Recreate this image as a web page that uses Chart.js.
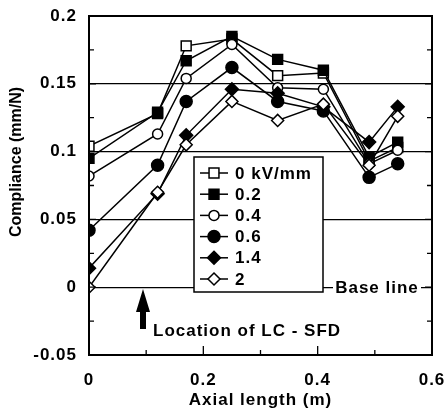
<!DOCTYPE html>
<html>
<head>
<meta charset="utf-8">
<script src="https://cdn.jsdelivr.net/npm/chart.js@4/dist/chart.umd.min.js"></script>
<style>
  body { margin: 0; background: #fff; }
  canvas { display: block; }
</style>
</head>
<body>
<canvas id="myChart" width="444" height="416"></canvas>
<script>
// axial positions (m) and compliance (mm/N) per field strength
const xValues = [0, 0.12, 0.17, 0.25, 0.33, 0.41, 0.49, 0.54];
const kv0  = [0.104, 0.128, 0.178, 0.183, 0.156, 0.158, 0.093, 0.103];
const kv02 = [0.095, 0.129, 0.167, 0.185, 0.168, 0.160, 0.096, 0.107];
const kv04 = [0.082, 0.113, 0.154, 0.179, 0.147, 0.146, 0.091, 0.101];
const kv06 = [0.042, 0.090, 0.137, 0.162, 0.137, 0.130, 0.081, 0.091];
const kv14 = [0.014, 0.069, 0.112, 0.146, 0.143, 0.133, 0.107, 0.133];
const kv2  = [0.000, 0.070, 0.105, 0.137, 0.123, 0.135, 0.090, 0.126];
const seriesLabels = ["0 kV/mm", "0.2", "0.4", "0.6", "1.4", "2"];
const xTickLabels = ["0", "0.2", "0.4", "0.6"];
const yTickLabels = ["-0.05", "0", "0.05", "0.1", "0.15", "0.2"];

const FONT = "'Liberation Sans', Arial, sans-serif";

const styles = [
    { shape: "rect", fill: "#fff", r: 7 },
    { shape: "rect", fill: "#000", r: 7 },
    { shape: "circle", fill: "#fff", r: 5 },
    { shape: "circle", fill: "#000", r: 6 },
    { shape: "rectRot", fill: "#000", r: 6.5 },
    { shape: "rectRot", fill: "#fff", r: 6 }
];

const allSeries = [kv0, kv02, kv04, kv06, kv14, kv2];
const datasets = allSeries.map((vals, i) => ({
    label: seriesLabels[i],
    data: vals.map((v, j) => ({ x: xValues[j], y: v })),
    showLine: true,
    borderColor: "#000",
    borderWidth: 1.5,
    pointStyle: styles[i].shape,
    pointRadius: styles[i].r,
    pointBackgroundColor: styles[i].fill,
    pointBorderColor: "#000",
    pointBorderWidth: 1.5,
    order: allSeries.length - i // later series on top
}));

// hand drawn marker for the legend box
function drawMarker(ctx, st, x, y) {
    ctx.beginPath();
    if (st.shape === "rect") {
        const s = Math.SQRT1_2 * st.r;
        ctx.rect(x - s, y - s, 2 * s, 2 * s);
    } else if (st.shape === "circle") {
        ctx.arc(x, y, st.r, 0, Math.PI * 2);
    } else {
        ctx.moveTo(x, y - st.r);
        ctx.lineTo(x + st.r, y);
        ctx.lineTo(x, y + st.r);
        ctx.lineTo(x - st.r, y);
        ctx.closePath();
    }
    ctx.fillStyle = st.fill;
    ctx.fill();
    ctx.lineWidth = 1.5;
    ctx.strokeStyle = "#000";
    ctx.stroke();
}

const decor = {
    id: "decor",
    beforeDraw(chart) {
        chart.ctx.letterSpacing = "1px";
    },
    afterDraw(chart) {
        const ctx = chart.ctx;
        const a = chart.chartArea;
        const xs = chart.scales.x, ys = chart.scales.y;
        ctx.save();
        ctx.strokeStyle = "#000";

        // inward tick marks
        ctx.lineWidth = 1.3;
        for (let k = -2; k <= 8; k++) {
            const py = ys.getPixelForValue(k * 0.025);
            const len = k % 2 === 0 ? 7 : 5;
            ctx.beginPath();
            ctx.moveTo(a.left, py); ctx.lineTo(a.left + len, py);
            ctx.moveTo(a.right, py); ctx.lineTo(a.right - len, py);
            ctx.stroke();
        }
        for (let k = 1; k <= 5; k++) {
            const px = xs.getPixelForValue(k * 0.1);
            const len = k % 2 === 0 ? 9 : 5;
            ctx.beginPath();
            ctx.moveTo(px, a.bottom); ctx.lineTo(px, a.bottom - len);
            ctx.stroke();
        }

        // frame
        ctx.lineWidth = 2;
        ctx.strokeRect(a.left, a.top, a.right - a.left, a.bottom - a.top);

        // legend box
        const lx = 194, ly = 157, lw = 129, lh = 135;
        ctx.fillStyle = "#fff";
        ctx.fillRect(lx, ly, lw, lh);
        ctx.lineWidth = 1.5;
        ctx.strokeRect(lx, ly, lw, lh);
        ctx.font = "bold 17px " + FONT;
        ctx.textBaseline = "middle";
        ctx.textAlign = "left";
        seriesLabels.forEach((lab, i) => {
            const yy = 173 + i * 21.2;
            ctx.beginPath();
            ctx.lineWidth = 1.5;
            ctx.moveTo(200, yy); ctx.lineTo(228, yy);
            ctx.stroke();
            drawMarker(ctx, styles[i], 214, yy);
            ctx.fillStyle = "#000";
            ctx.fillText(lab, 235, yy + 1);
        });

        // base line label
        const y0 = ys.getPixelForValue(0);
        ctx.fillStyle = "#fff";
        ctx.fillRect(333, y0 - 9, 88, 18);
        ctx.fillStyle = "#000";
        ctx.textAlign = "center";
        ctx.fillText("Base line", 377, y0 + 1);

        // arrow marking the damper location
        const ax = 143;
        ctx.beginPath();
        ctx.moveTo(ax, 289);
        ctx.lineTo(ax + 7, 312);
        ctx.lineTo(ax + 3, 312);
        ctx.lineTo(ax + 3, 329);
        ctx.lineTo(ax - 3, 329);
        ctx.lineTo(ax - 3, 312);
        ctx.lineTo(ax - 7, 312);
        ctx.closePath();
        ctx.fill();
        ctx.textAlign = "left";
        ctx.textBaseline = "alphabetic";
        ctx.fillText("Location of LC - SFD", 153, 336);

        // y axis title
        ctx.translate(17, 162);
        ctx.rotate(-Math.PI / 2);
        ctx.textAlign = "center";
        ctx.textBaseline = "middle";
        ctx.letterSpacing = "0px";
        ctx.font = "bold 16px " + FONT;
        ctx.fillText("Compliance (mm/N)", 0, 0);
        ctx.restore();
    }
};

new Chart(document.getElementById("myChart"), {
    type: "scatter",
    data: { datasets: datasets },
    plugins: [decor],
    options: {
        responsive: false,
        animation: false,
        layout: { padding: { top: 16, right: 12, left: 0, bottom: 0 } },
        plugins: { legend: { display: false }, tooltip: { enabled: false } },
        scales: {
            x: {
                type: "linear",
                min: 0, max: 0.6,
                afterFit: (s) => { s.height = 61; s.paddingLeft = 0; s.paddingRight = 0; },
                grid: { display: false, drawTicks: false },
                border: { display: false },
                ticks: {
                    stepSize: 0.1,
                    padding: 15,
                    color: "#000",
                    font: { family: FONT, size: 17, weight: "bold" },
                    callback: (v) => {
                        const k = Math.round(v * 10);
                        return k % 2 === 0 ? xTickLabels[k / 2] : "";
                    }
                },
                title: {
                    display: true,
                    text: "Axial length (m)",
                    color: "#000",
                    font: { family: FONT, size: 17, weight: "bold" },
                    padding: { top: 0, bottom: 5 }
                }
            },
            y: {
                min: -0.05, max: 0.2,
                afterFit: (s) => { s.width = 89; s.paddingTop = 0; s.paddingBottom = 0; },
                grid: {
                    drawTicks: false,
                    lineWidth: 1.3,
                    color: (c) => {
                        const k = Math.round(c.tick.value * 1000);
                        return (k % 50 === 0 && k > -50 && k < 200) ? "#000" : "rgba(0,0,0,0)";
                    }
                },
                border: { display: false },
                ticks: {
                    stepSize: 0.025,
                    padding: 12,
                    color: "#000",
                    font: { family: FONT, size: 17, weight: "bold" },
                    callback: (v) => {
                        const k = Math.round(v * 1000);
                        return k % 50 === 0 ? yTickLabels[(k + 50) / 50] : "";
                    }
                }
            }
        }
    }
});
</script>
</body>
</html>
